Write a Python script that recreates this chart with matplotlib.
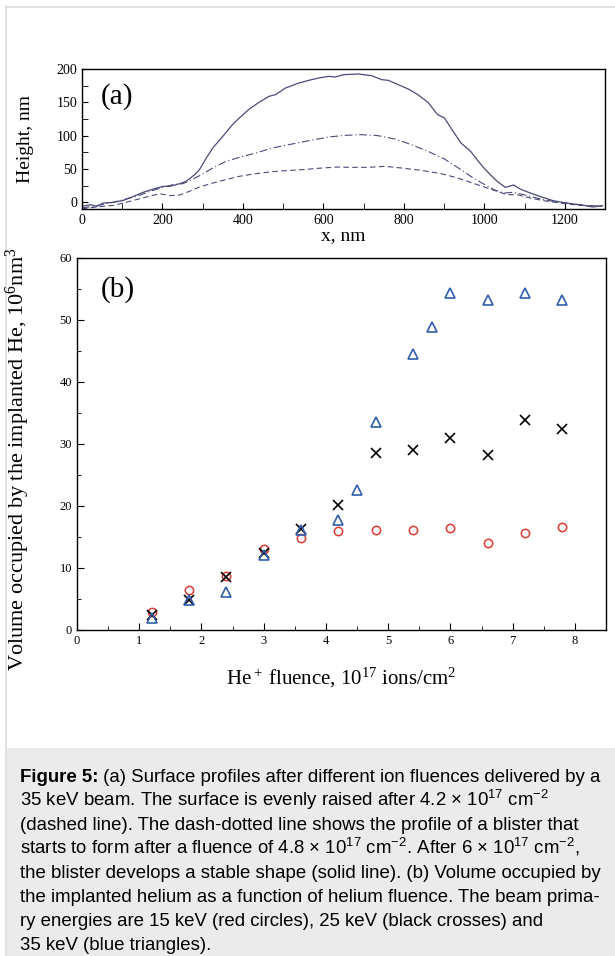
import matplotlib
matplotlib.use('Agg')
import matplotlib.pyplot as plt
from matplotlib.patches import Rectangle
from matplotlib.ticker import MultipleLocator

plt.rcParams['font.family'] = ['Liberation Serif', 'DejaVu Serif']

# (a) surface profiles, 35 keV beam
x_solid = [0, 21, 37, 53, 78, 103, 128, 152, 177, 202, 218, 243, 259, 280, 292, 309, 325, 350,
           374, 391, 416, 440, 465, 481, 506, 539, 564, 588, 613, 629, 650, 687, 720, 745, 761,
           786, 811, 835, 860, 884, 901, 917, 942, 966, 982, 999, 1015, 1032, 1052, 1073, 1089,
           1114, 1138, 1171, 1204, 1245, 1270, 1294]
h_solid = [-6, -3.5, -6, -1, 0, 3, 9, 15, 20, 24, 24, 28, 31.5, 41.5, 49, 66.5, 81.5, 99,
           116.5, 126.5, 140, 150, 159, 161.5, 171.5, 179, 183, 186.5, 189, 188, 191.5, 192.5,
           190, 184, 183, 176.5, 170, 161.5, 150, 131.5, 126.5, 111.5, 89, 76.5, 64, 51.5,
           41.5, 31.5, 22.5, 26, 20, 14, 9, 2.5, -1, -4.5, -7, -5]

x_dashdot = [0, 37, 70, 103, 136, 169, 202, 226, 251, 276, 300, 325, 358, 391, 432, 473, 514,
             564, 613, 654, 695, 736, 778, 819, 860, 901, 942, 966, 991, 1024, 1048, 1073,
             1097, 1130, 1171, 1212, 1253, 1294]
h_dashdot = [-8.5, -5, -1, 4, 9, 16.5, 22.5, 26.5, 28, 35, 42.5, 51.5, 61.5, 67.5, 74, 81.5,
             86.5, 92.5, 98, 100.5, 101.5, 100, 95, 86.5, 76.5, 65, 49, 39, 30, 19, 14, 15,
             11.5, 6.5, 1.5, -2, -4.5, -6]

x_dashed = [0, 37, 78, 119, 160, 193, 218, 243, 267, 292, 317, 350, 391, 432, 481, 547, 597,
            638, 662, 712, 753, 794, 843, 893, 934, 975, 1007, 1032, 1056, 1081, 1114, 1147,
            1188, 1237, 1294]
h_dashed = [-9.5, -7, -4.5, 1.5, 8, 13, 10, 11, 16.5, 23, 27.5, 33, 39, 43, 46.5, 49, 51.5,
            53, 52.5, 52.5, 54, 51.5, 48, 43, 36.5, 28, 21.5, 16.5, 11.5, 11.5, 6.5, 2.5, -1,
            -4.5, -6]

# (b) volume vs fluence
fl_15 = [1.2, 1.8, 2.4, 3.0, 3.6, 4.2, 4.8, 5.4, 6.0, 6.6, 7.2, 7.8]
vol_15 = [2.9, 6.4, 8.7, 13.0, 14.8, 15.9, 16.1, 16.1, 16.4, 14.0, 15.7, 16.6]

fl_25 = [1.2, 1.8, 2.4, 3.0, 3.6, 4.2, 4.8, 5.4, 6.0, 6.6, 7.2, 7.8]
vol_25 = [2.5, 4.8, 8.5, 12.5, 16.3, 20.1, 28.6, 29.1, 30.9, 28.2, 33.9, 32.5]

fl_35 = [1.2, 1.8, 2.4, 3.0, 3.6, 4.2, 4.5, 4.8, 5.4, 5.7, 6.0, 6.6, 7.2, 7.8]
vol_35 = [1.9, 4.9, 6.1, 12.1, 16.1, 17.7, 22.6, 33.5, 44.5, 48.8, 54.3, 53.3, 54.4, 53.2]

caption = [
    ' (a) Surface profiles after different ion fluences delivered by a',
    '35 keV beam. The surface is evenly raised after 4.2 × 10$\\mathregular{^{17}}$ cm$\\mathregular{^{−2}}$',
    '(dashed line). The dash-dotted line shows the profile of a blister that',
    'starts to form after a fluence of 4.8 × 10$\\mathregular{^{17}}$ cm$\\mathregular{^{−2}}$. '
    'After 6 × 10$\\mathregular{^{17}}$ cm$\\mathregular{^{−2}}$,',
    'the blister develops a stable shape (solid line). (b) Volume occupied by',
    'the implanted helium as a function of helium fluence. The beam prima-',
    'ry energies are 15 keV (red circles), 25 keV (black crosses) and',
    '35 keV (blue triangles).',
]

W, H = 615, 956
fig = plt.figure(figsize=(W / 100, H / 100), dpi=100)

# page background, border and caption box (pixel coords)
bg = fig.add_axes([0, 0, 1, 1], zorder=-1)
bg.set_xlim(0, W)
bg.set_ylim(H, 0)
bg.axis('off')
bg.add_patch(Rectangle((7, 748), W - 7, H - 748, color='#ebebeb', lw=0))
bg.plot([6, 6], [6, H], color='#dcdcdc', lw=1.2)
bg.plot([6, W], [6.5, 6.5], color='#dcdcdc', lw=1.2)

line_col = '#4a4a7a'

# panel (a)
ax1 = fig.add_axes([82 / W, 1 - 209 / H, (605 - 82) / W, (209 - 69) / H])
ax1.plot(x_solid, h_solid, color=line_col, lw=0.9)
ax1.plot(x_dashdot, h_dashdot, color=line_col, lw=0.8, dashes=(7, 2.5, 1, 2.5))
ax1.plot(x_dashed, h_dashed, color=line_col, lw=0.8, dashes=(5, 3))
ax1.set_xlim(0, 1300)
ax1.set_ylim(-10, 200)
ax1.xaxis.set_major_locator(MultipleLocator(200))
ax1.xaxis.set_minor_locator(MultipleLocator(100))
ax1.yaxis.set_major_locator(MultipleLocator(50))
ax1.yaxis.set_minor_locator(MultipleLocator(25))
ax1.tick_params(which='both', direction='in', labelsize=10, top=False, right=False)
ax1.tick_params(which='major', length=4)
ax1.tick_params(which='minor', length=4)
ax1.set_xlabel('x, nm', fontsize=14, labelpad=0)
ax1.set_ylabel('Height, nm', fontsize=14)
ax1.yaxis.set_label_coords(-0.092, 0.5)
ax1.text(0.035, 0.8, '(a)', transform=ax1.transAxes, fontsize=21, va='center')

# panel (b)
ax2 = fig.add_axes([77 / W, 1 - 630 / H, (606 - 77) / W, (630 - 258) / H])
ax2.plot(fl_15, vol_15, 'o', ms=6, mfc='none', mec='#e23a30', mew=1.1)
ax2.plot(fl_25, vol_25, 'x', ms=7, color='black', mew=1.2)
ax2.plot(fl_35, vol_35, '^', ms=7, mfc='none', mec='#2f5dab', mew=1.2)
ax2.set_xlim(0, 8.5)
ax2.set_ylim(0, 60)
ax2.xaxis.set_major_locator(MultipleLocator(1))
ax2.xaxis.set_minor_locator(MultipleLocator(0.5))
ax2.yaxis.set_major_locator(MultipleLocator(10))
ax2.yaxis.set_minor_locator(MultipleLocator(5))
ax2.tick_params(which='both', direction='in', labelsize=9, top=False, right=False)
ax2.tick_params(which='major', length=5)
ax2.tick_params(which='minor', length=3)
ax2.set_xlabel('He$\\mathregular{^+}\\,$fluence, 10$\\mathregular{^{17}}$ ions/cm$\\mathregular{^2}$',
               fontsize=15, labelpad=14)
ax2.set_ylabel('Volume occupied by the implanted He, 10$\\mathregular{^6}$nm$\\mathregular{^3}$',
               fontsize=16)
ax2.yaxis.set_label_coords(-0.085, 0.46)
ax2.text(0.045, 0.915, '(b)', transform=ax2.transAxes, fontsize=21, va='center')

for ax in (ax1, ax2):
    for s in ax.spines.values():
        s.set_linewidth(1.0)

# caption
cap_font = ['Liberation Sans', 'DejaVu Sans']
cap_size = 13.4
y0 = 782
t1 = bg.text(20, y0, 'Figure 5:', fontsize=cap_size, weight='bold', family=cap_font, va='baseline')
bg.annotate(caption[0], xy=(1, 0), xycoords=t1, va='bottom', ha='left',
            fontsize=cap_size, family=cap_font)
for i, line in enumerate(caption[1:]):
    bg.text(20, y0 + 24 * (i + 1), line, fontsize=cap_size, family=cap_font, va='baseline')

plt.savefig('out.png', dpi=100)
plt.close()
